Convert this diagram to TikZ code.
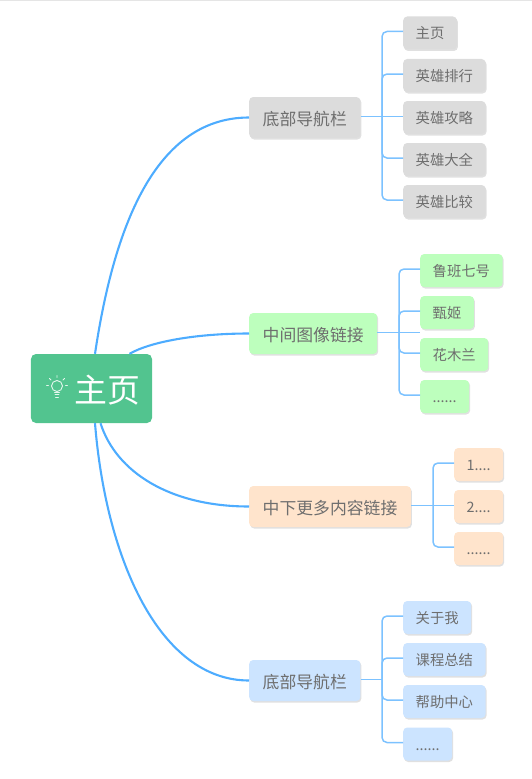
\documentclass[tikz,border=0pt]{standalone}
\usepackage{fontspec}
\setmainfont{Noto Sans CJK SC}
\usepackage{xcolor}
\usepackage{tikz}
\usetikzlibrary{shadows}
\definecolor{mainline}{HTML}{4DACFF}
\definecolor{leafline}{HTML}{7CC2FF}
\definecolor{rootfill}{HTML}{52C48F}
\definecolor{grayfill}{HTML}{DCDCDC}
\definecolor{greenfill}{HTML}{BDFFBD}
\definecolor{orangefill}{HTML}{FFE4CC}
\definecolor{bluefill}{HTML}{CCE4FF}
\definecolor{labeltext}{HTML}{6E6E6E}
\tikzset{
    box/.style = {shape=rectangle, rounded corners=4bp, anchor=west, text=labeltext,
        drop shadow={shadow xshift=1bp, shadow yshift=-1.5bp, fill=black, opacity=.12}},
    topic/.style = {box, inner xsep=13.5bp, inner ysep=0pt, minimum height=41bp, text height=15bp, text depth=0bp,
        font=\fontsize{16.9}{17}\selectfont},
    leaf/.style = {box, inner xsep=12.5bp, inner ysep=0pt, minimum height=33bp, text height=13bp, text depth=1bp,
        font=\fontsize{14.4}{15}\selectfont},
    mainedge/.style = {draw=mainline, line width=2.1bp},
    leafedge/.style = {draw=leafline, line width=1.5bp, rounded corners=5bp},
    bulb/.style = {draw=white!85!rootfill, line width=.9bp, line cap=round}
}
\begin{document}
\begin{tikzpicture}[x=1bp, y=1bp]
    \useasboundingbox (0,0) rectangle (532,-779);
    \draw[black!10, line width=1bp] (0,-.5) -- (532,-.5);
    % centre
    \node[shape=rectangle, rounded corners=5bp, fill=rootfill, text=white, inner sep=0pt,
        minimum width=121bp, minimum height=69bp, text height=27.5bp, text depth=0bp,
        font=\fontsize{33}{33}\selectfont] (root) at (91.5,-388.5)
        {\hspace*{32bp}主页};
    \draw[bulb] (57,-386) circle (5.5);
    \draw[bulb] (54.5,-392) -- (59.5,-392) (55,-394.5) -- (59,-394.5) (55.5,-397) -- (58.5,-397);
    \draw[bulb] (57,-375.5) -- (57,-377.5) (49.5,-378.5) -- (51,-380) (64.5,-378.5) -- (63,-380)
        (46.5,-385.5) -- (48.5,-385.5) (67.5,-385.5) -- (65.5,-385.5);
    % first branch
    \node[topic, fill=grayfill] (nav) at (249,-117.5) {底部导航栏};
    \node[leaf, fill=grayfill] (nava) at (403,-33) {主页};
    \node[leaf, fill=grayfill] (navb) at (403,-75.5) {英雄排行};
    \node[leaf, fill=grayfill] (navc) at (403,-117.5) {英雄攻略};
    \node[leaf, fill=grayfill] (navd) at (403,-159.5) {英雄大全};
    \node[leaf, fill=grayfill] (nave) at (403,-201.5) {英雄比较};
    % second branch
    \node[topic, fill=greenfill] (img) at (249,-333.5) {中间图像链接};
    \node[leaf, fill=greenfill] (imga) at (420,-270.5) {鲁班七号};
    \node[leaf, fill=greenfill] (imgb) at (420,-312.5) {甄姬};
    \node[leaf, fill=greenfill] (imgc) at (420,-354.5) {花木兰};
    \node[leaf, fill=greenfill] (imgd) at (420,-396.5) {......};
    % third branch
    \node[topic, fill=orangefill] (more) at (249,-506.5) {中下更多内容链接};
    \node[leaf, fill=orangefill] (morea) at (454,-464.5) {1....};
    \node[leaf, fill=orangefill] (moreb) at (454,-506.5) {2....};
    \node[leaf, fill=orangefill] (morec) at (454,-548.5) {......};
    % fourth branch
    \node[topic, fill=bluefill] (foot) at (249,-680.5) {底部导航栏};
    \node[leaf, fill=bluefill] (foota) at (403,-617.5) {关于我};
    \node[leaf, fill=bluefill] (footb) at (403,-659.5) {课程总结};
    \node[leaf, fill=bluefill] (footc) at (403,-701.5) {帮助中心};
    \node[leaf, fill=bluefill] (footd) at (403,-744) {......};
    % curves out of the centre
    \draw[mainedge] ([xshift=3.5bp]root.north) .. controls (112,-240) and (150,-117.5) .. (nav.west);
    \draw[mainedge] ([xshift=38bp]root.north) .. controls (150,-342) and (195,-333.5) .. (img.west);
    \draw[mainedge] ([xshift=9bp]root.south) .. controls (116,-472) and (170,-506.5) .. (more.west);
    \draw[mainedge] ([xshift=3.5bp]root.south) .. controls (106,-560) and (160,-680.5) .. (foot.west);
    % trunks
    \coordinate (navjoin) at (382,-116.5);
    \coordinate (imgjoin) at (399,-332.5);
    \coordinate (morejoin) at (433,-505.5);
    \coordinate (footjoin) at (382,-679.5);
    \draw[leafedge] ([yshift=1bp]nav.east) -- (navc.west |- navjoin);
    \draw[leafedge] ([yshift=1bp]img.east) -- (imgb.west |- imgjoin);
    \draw[leafedge] ([yshift=1bp]more.east) -- (moreb.west |- morejoin);
    \draw[leafedge] ([yshift=1bp]foot.east) -- (footjoin);
    \foreach \name in {nava,navb,navd,nave}
        \draw[leafedge] (navjoin) |- ([yshift=1.5bp]\name.west);
    \foreach \name in {imga,imgb,imgc,imgd}
        \draw[leafedge] (imgjoin) |- ([yshift=1.5bp]\name.west);
    \foreach \name in {morea,morec}
        \draw[leafedge] (morejoin) |- ([yshift=1.5bp]\name.west);
    \foreach \name in {foota,footb,footc,footd}
        \draw[leafedge] (footjoin) |- ([yshift=1.5bp]\name.west);
\end{tikzpicture}
\end{document}
